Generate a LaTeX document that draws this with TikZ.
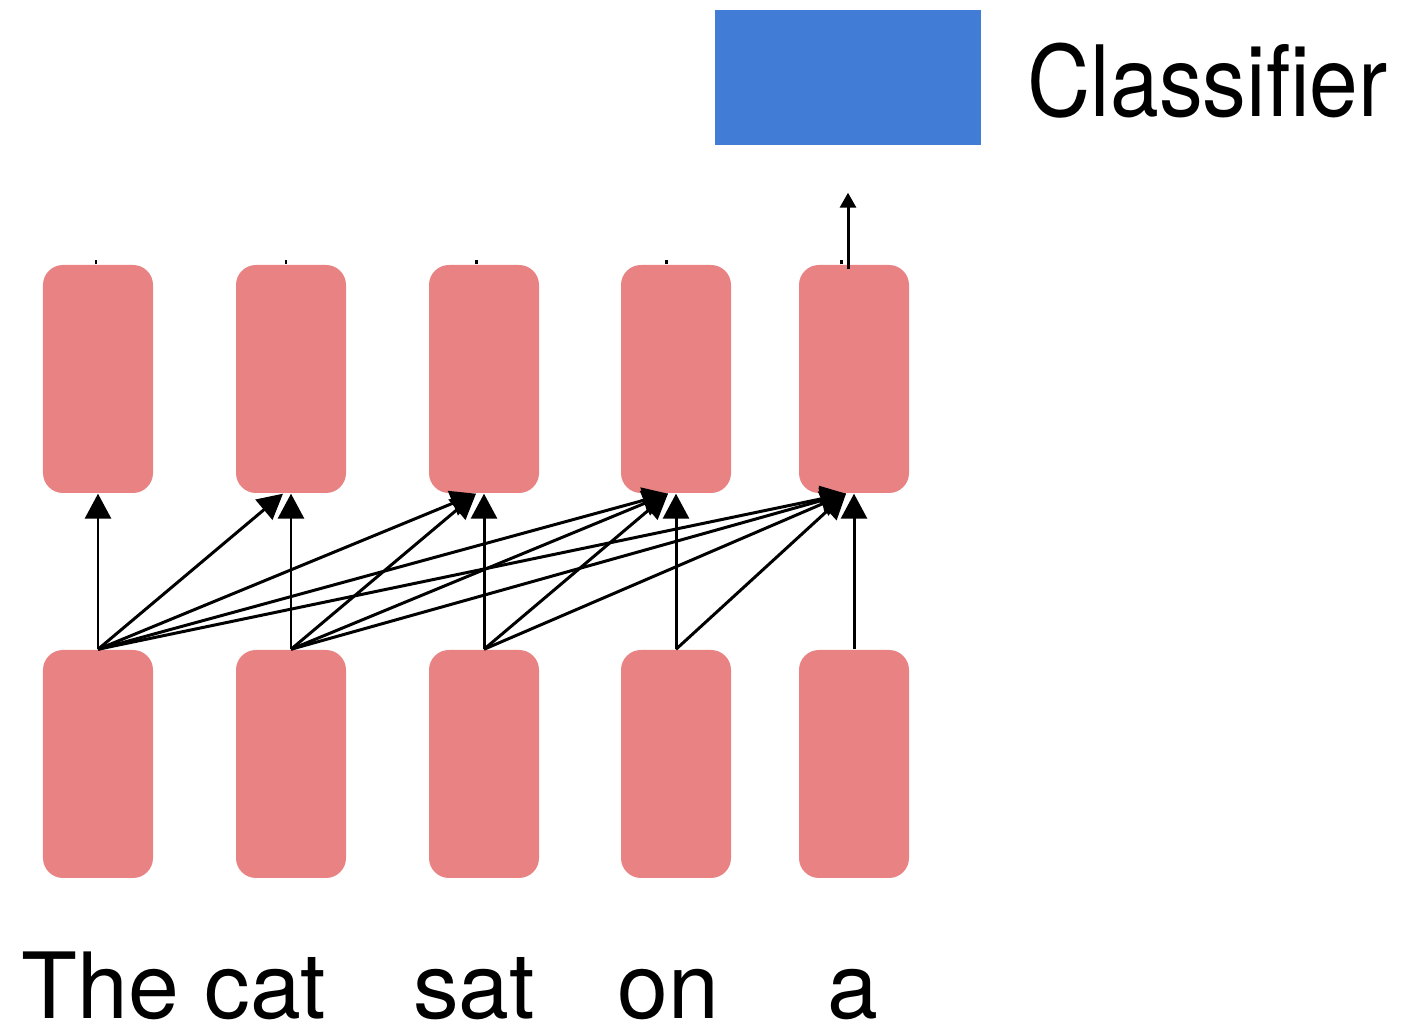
\documentclass[tikz,border=0pt]{standalone}
\usepackage{fontspec}
\setmainfont{TeX Gyre Heros}
\newfontfamily\narrowfont[FakeStretch=0.89]{TeX Gyre Heros}
\usetikzlibrary{arrows.meta, positioning, calc}
\definecolor{cellpink}{HTML}{E88283}
\definecolor{clsblue}{HTML}{417CD6}

\begin{document}
\begin{tikzpicture}[
      cell/.style={fill=cellpink, rounded corners=0.2cm, minimum width=1.1cm, minimum height=2.28cm, inner sep=0pt},
      arr/.style={-{Triangle[length=2.5mm, width=2.6mm]}, line width=0.85pt},
      outarr/.style={-{Triangle[length=1.5mm, width=1.6mm]}, line width=0.85pt},
      word/.style={anchor=base, inner sep=0pt, font=\fontsize{26}{26}\selectfont},
    ]
    \useasboundingbox (0,0) rectangle (14.06,10.31);
    % --- the two rows of cells ----------------------------------------
    \foreach \i/\x in {1/0.98, 2/2.91, 3/4.84, 4/6.76, 5/8.54} {
      \node[cell] (emb\i) at (\x,2.67) {};
      \node[cell] (hid\i) at (\x,6.52) {};
    }
    % --- classifier block and its label -------------------------------
    \node[fill=clsblue, minimum width=2.66cm, minimum height=1.35cm, inner sep=0pt] (cls) at (8.48,9.535) {};
    \node[anchor=base west, inner sep=0pt, font=\narrowfont\fontsize{28}{28}\selectfont] (clslbl) at (10.27,9.14) {Classifier};
    % --- input words --------------------------------------------------
    \node[word] (w1) at (1.74,0.12) {The cat};
    \node[word] (w3) at (4.74,0.12) {sat};
    \node[word] (w4) at (6.68,0.12) {on};
    \node[word] (w5) at (8.53,0.12) {a};
    % --- straight arrows up each column -------------------------------
    \foreach \i in {1,...,5} {
      \draw[arr] (emb\i.north) -- (hid\i.south);
    }
    % --- every cell also feeds the cells to its right -----------------
    \foreach \i in {1,...,4} {
      \pgfmathtruncatemacro\nxt{\i+1}
      \foreach \j in {\nxt,...,5} {
        \draw[arr] (emb\i.north) -- ([xshift=-0.08cm]hid\j.south);
      }
    }
    % --- little stubs on top of the upper cells -----------------------
    \foreach \i/\dx in {1/-0.02, 2/-0.05, 3/-0.08, 4/-0.10, 5/-0.13} {
      \draw[line width=0.85pt] ([xshift=\dx cm]hid\i.north) -- ++(0,0.04);
    }
    % --- last state goes up towards the classifier --------------------
    \coordinate (clsin) at ([yshift=-0.47cm]cls.south);
    \draw[outarr] ($(cls.south |- hid5.north)+(0,-0.05)$) -- (clsin);
  \end{tikzpicture}
\end{document}
